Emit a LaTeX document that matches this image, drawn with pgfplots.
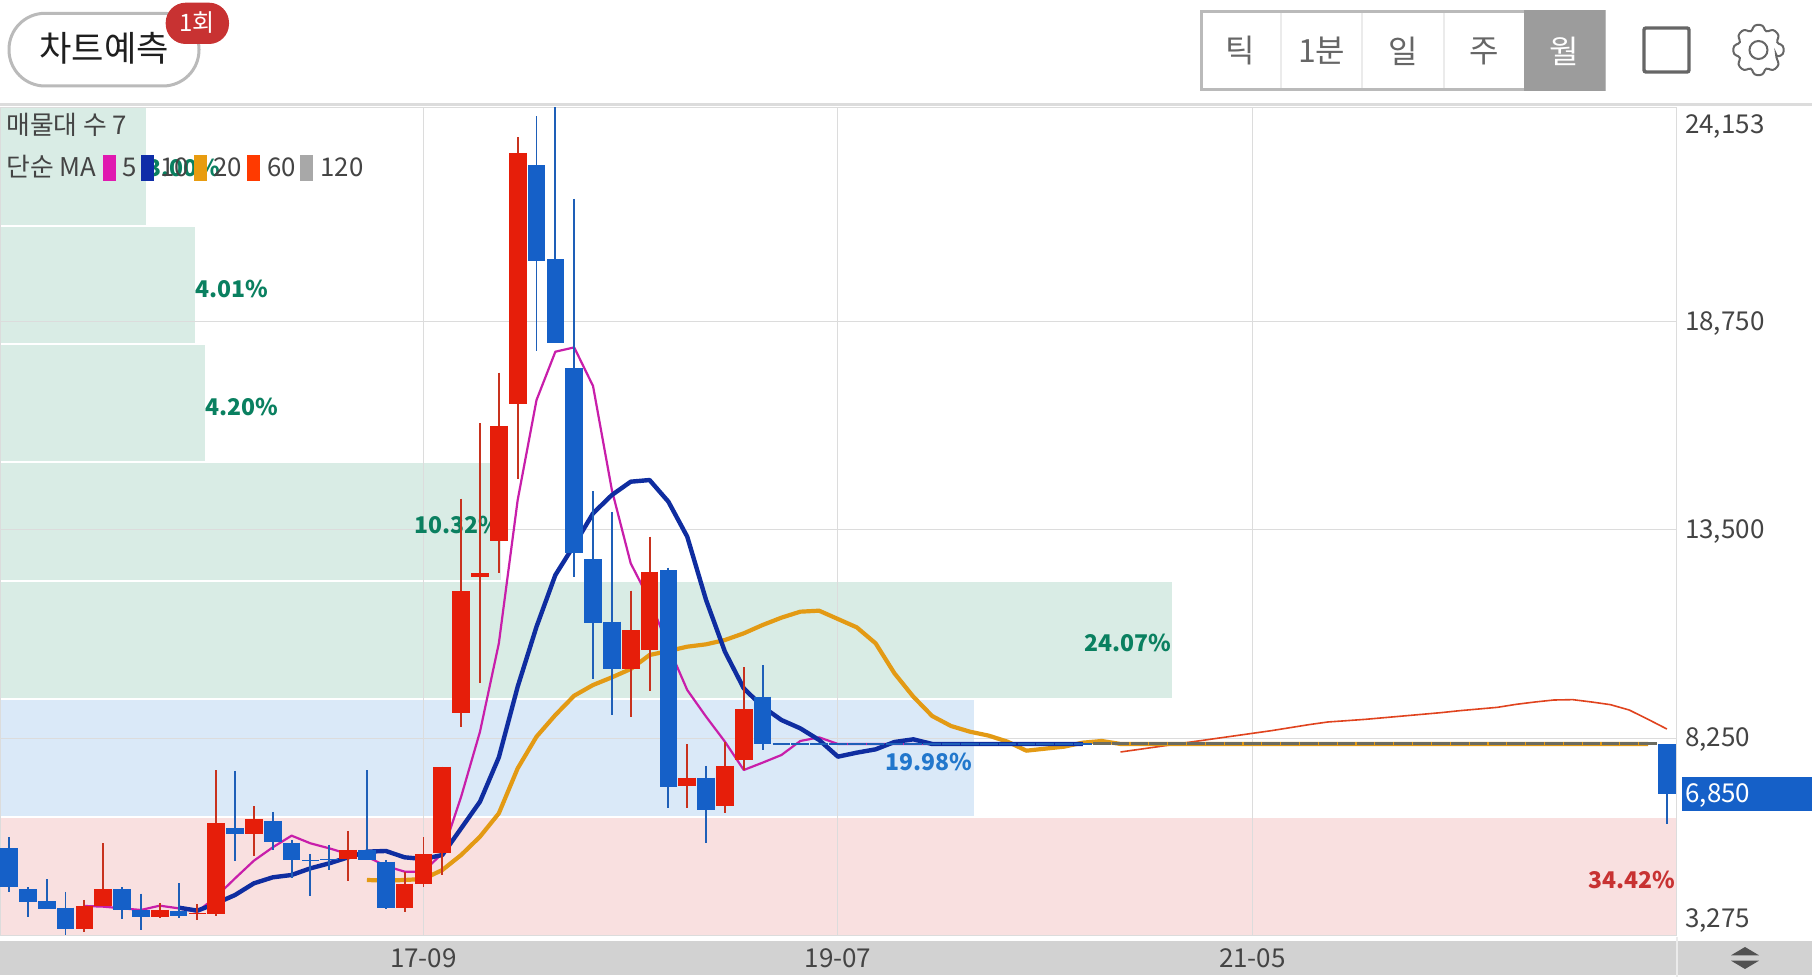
\documentclass[border=0pt]{standalone}
\usepackage{pgfplots}
\pgfplotsset{compat=1.18}
\usepackage{fontspec}
\setmainfont{Noto Sans CJK KR}
\definecolor{cred}{HTML}{E61E0A}
\definecolor{cblue}{HTML}{1560C8}
\definecolor{wred}{HTML}{C8321E}
\definecolor{wblue}{HTML}{1E5FB8}
\definecolor{ma5}{HTML}{C81EAA}
\definecolor{ma10}{HTML}{0F2DA0}
\definecolor{ma20}{HTML}{E39A14}
\definecolor{ma60}{HTML}{E0431E}
\definecolor{pgreen}{HTML}{D9ECE5}
\definecolor{pblue}{HTML}{DAE9F8}
\definecolor{ppink}{HTML}{F9E0E0}
\definecolor{tgreen}{HTML}{0A8060}
\definecolor{tblue}{HTML}{2277CC}
\definecolor{tred}{HTML}{C83232}
\definecolor{gridc}{HTML}{DCDCDC}
\definecolor{bandc}{HTML}{D2D2D2}
\definecolor{flatc}{HTML}{6C6C60}
\definecolor{txt}{HTML}{444444}
\definecolor{lg5}{HTML}{E019B0}
\definecolor{lg10}{HTML}{0F2DA8}
\definecolor{lg20}{HTML}{E89C10}
\definecolor{lg60}{HTML}{FF3A00}
\definecolor{lg120}{HTML}{A8A8A8}
\pgfdeclarelayer{bg}
\pgfdeclarelayer{axis background}
\pgfdeclarelayer{axis grid}
\pgfdeclarelayer{axis ticks}
\pgfdeclarelayer{axis lines}
\pgfdeclarelayer{axis tick labels}
\pgfdeclarelayer{pre main}
\pgfdeclarelayer{axis descriptions}
\pgfdeclarelayer{axis foreground}
\pgfsetlayers{bg,axis background,axis grid,axis ticks,axis lines,axis tick labels,pre main,main,axis descriptions,axis foreground}
\pgfplotsset{layers/mine/.define layer set={bg,axis background,axis grid,axis ticks,axis lines,axis tick labels,pre main,main,axis descriptions,axis foreground}{}}
\newcommand{\upc}[5]{%
 \addplot[wred,line width=.95pt,forget plot] coordinates {(#1,#4)(#1,#5)};
 \addplot[cred,line width=8.85pt,forget plot] coordinates {(#1,#2)(#1,#3)};}
\newcommand{\dnc}[5]{%
 \addplot[wblue,line width=.95pt,forget plot] coordinates {(#1,#4)(#1,#5)};
 \addplot[cblue,line width=8.85pt,forget plot] coordinates {(#1,#2)(#1,#3)};}
\newcommand{\prow}[4]{%
 \addplot[on layer=axis background,fill=#1,draw=white,line width=1pt,forget plot] coordinates {(-0.478,#2)(#4,#2)(#4,#3)(-0.478,#3)(-0.478,#2)};}
\newcommand{\pctL}[4]{\node[anchor=west,inner sep=0,font=\fontsize{11.5}{14}\selectfont\bfseries,text=#4] at (axis cs:#1,#2) {#3\%};}
\newcommand{\pctR}[4]{\node[anchor=east,inner sep=0,font=\fontsize{11.5}{14}\selectfont\bfseries,text=#4] at (axis cs:#1,#2) {#3\%};}
\begin{document}
\begin{tikzpicture}
\begin{pgfonlayer}{bg}
\fill[white] (0pt,0pt) rectangle (906pt,-488.5pt);
\begin{scope}[x=0.5pt,y=-0.5pt]
\fill[gridc] (0,103) rectangle (1812,106);
\fill[bandc] (0,940.7) rectangle (1812,975);
\fill[white!92!black] (1676,936) rectangle (1678,977);
\end{scope}
\end{pgfonlayer}
\begin{axis}[
 at={(0pt,-467.85pt)},anchor=south west,
 scale only axis,width=838.35pt,height=414.2pt,
 xmin=-0.478,xmax=88.52,ymin=3275,ymax=24153,
 set layers=mine,
 scaled y ticks=false,
 axis line style={draw=gridc,line width=.6pt},
 xtick={22,44,66},xticklabels={\raisebox{-16pt}[0pt][0pt]{17-09},\raisebox{-16pt}[0pt][0pt]{19-07},\raisebox{-16pt}[0pt][0pt]{21-05}},
 ytick={3275,8250,13500,18750,24153},
 yticklabels={{\raisebox{4.3pt}[0pt][0pt]{3,275}},{\raisebox{-4.3pt}[0pt][0pt]{8,250}},{\raisebox{-4.3pt}[0pt][0pt]{13,500}},{\raisebox{-4.3pt}[0pt][0pt]{18,750}},{\raisebox{-13.2pt}[0pt][0pt]{24,153}}},
 yticklabel pos=right,
 major tick length=0pt,
 xmajorgrids,ymajorgrids,
 grid style={draw=gridc,line width=.5pt},
 tick label style={font=\fontsize{13}{14}\selectfont,text=txt,inner sep=0pt},
 yticklabel style={anchor=west,xshift=4pt},
 xticklabel style={anchor=center,yshift=0pt},
]
% volume profile (share of turnover by price band)
\prow{ppink}{3275}{6257.6}{88.52}
\prow{pblue}{6257.6}{9240.1}{51.25}
\prow{pgreen}{9240.1}{12222.7}{61.81}
\prow{pgreen}{12222.7}{15205.3}{26.17}
\prow{pgreen}{15205.3}{18187.9}{10.45}
\prow{pgreen}{18187.9}{21170.4}{9.92}
\prow{pgreen}{21170.4}{24153}{7.32}
\pctL{7.325}{22621}{3.00}{tgreen}
\pctL{9.873}{19572}{4.01}{tgreen}
\pctL{10.4}{16599}{4.20}{tgreen}
\pctR{26.17}{13625}{10.32}{tgreen}
\pctR{61.73}{10664}{24.07}{tgreen}
\pctR{51.17}{7663}{19.98}{tblue}
\pctR{88.48}{4679}{34.42}{tred}
% MA 60
\addplot[ma60,line width=.8pt,line join=round,forget plot] coordinates {(59,7905)(60,7972)(61,8039)(62,8107)(63,8174)(64,8241)(65,8308)(66,8375)(67,8442)(68,8518)(69,8594)(70,8661)(71,8694)(72,8728)(73,8770)(74,8812)(75,8854)(76,8896)(77,8946)(78,8988)(79,9030)(80,9106)(81,9165)(82,9215)(83,9224)(84,9165)(85,9098)(86,8963)(87,8728)(88,8484)};
% MA 20
\addplot[ma20,line width=2.1pt,line join=round,forget plot] coordinates {(19,4679)(20,4662)(21,4679)(22,4704)(23,4931)(24,5309)(25,5771)(26,6359)(27,7493)(28,8291)(29,8837)(30,9324)(31,9593)(32,9786)(33,9996)(34,10349)(35,10450)(36,10559)(37,10618)(38,10727)(39,10895)(40,11105)(41,11290)(42,11441)(43,11466)(44,11256)(45,11046)(46,10643)(47,9887)(48,9299)(49,8812)(50,8560)(51,8417)(52,8317)(53,8165)(54,7938)(55,7989)(56,8039)(57,8140)(58,8182)(59,8107)(87,8107)};
% MA 5
\addplot[ma5,line width=1.1pt,line join=round,forget plot] coordinates {(4,4024)(5,4007)(6,3965)(7,3923)(8,4032)(9,3965)(10,3881)(11,4259)(12,4721)(13,5166)(14,5502)(15,5796)(16,5603)(17,5477)(18,5334)(19,5267)(20,5032)(21,4889)(22,4889)(23,5351)(24,6779)(25,8417)(26,10643)(27,14255)(28,16775)(29,17993)(30,18102)(31,17128)(32,14507)(33,12659)(34,11735)(35,10559)(36,9467)(37,8795)(38,8165)(39,7451)(40,7636)(41,7829)(42,8182)(43,8274)(44,8106)(57,8106)};
% MA 10
\addplot[ma10,line width=2.2pt,line join=round,forget plot] coordinates {(9,3982)(10,3906)(11,4091)(12,4301)(13,4595)(14,4746)(15,4805)(16,4973)(17,5099)(18,5250)(19,5393)(20,5410)(21,5250)(22,5208)(23,5309)(24,5981)(25,6653)(26,7770)(27,9551)(28,11063)(29,12365)(30,13121)(31,13919)(32,14381)(33,14717)(34,14759)(35,14213)(36,13331)(37,11735)(38,10433)(39,9509)(40,9047)(41,8711)(42,8501)(43,8207)(44,7787)(45,7888)(46,7972)(47,8157)(48,8224)(49,8107)(57,8107)};
% candles: index, top and bottom of the body, high, low
\dnc{0}{5478}{4495}{5755}{4384}
\dnc{1}{4445}{4132}{4495}{3754}
\dnc{2}{4142}{3956}{4697}{3941}
\dnc{3}{3981}{3452}{4377}{3285}
\upc{4}{4024}{3452}{4175}{3376}
\upc{5}{4445}{4024}{5604}{4024}
\dnc{6}{4445}{3931}{4495}{3704}
\dnc{7}{3923}{3754}{4334}{3419}
\upc{8}{3923}{3754}{4092}{3729}
\dnc{9}{3905}{3779}{4596}{3729}
\upc{10}{3840}{3815}{4067}{3671}
\upc{11}{6108}{3822}{7451}{3779}
\dnc{12}{5989}{5838}{7426}{5165}
\upc{13}{6216}{5831}{6536}{5291}
\dnc{14}{6166}{5629}{6393}{5435}
\dnc{15}{5619}{5191}{5687}{4722}
\dnc{16}{5191}{5158}{5334}{4283}
\dnc{17}{5208}{5183}{5561}{4931}
\upc{18}{5435}{5208}{5914}{4661}
\dnc{19}{5435}{5191}{7443}{5191}
\dnc{20}{5140}{3966}{5175}{3941}
\upc{21}{4586}{3966}{4888}{3865}
\upc{22}{5334}{4578}{5755}{4510}
\upc{23}{7534}{5352}{7534}{4805}
\upc{24}{11962}{8880}{14288}{8542}
\upc{25}{12408}{12322}{16188}{9636}
\upc{26}{16127}{13222}{17463}{12408}
\upc{27}{23007}{16674}{23395}{14777}
\dnc{28}{22697}{20278}{23932}{18017}
\dnc{29}{20328}{18204}{24153}{18204}
\dnc{30}{17574}{12927}{21848}{12307}
\dnc{31}{12761}{11155}{14474}{9752}
\dnc{32}{11188}{9996}{13953}{8845}
\upc{33}{10979}{9996}{11969}{8794}
\upc{34}{12448}{10475}{13330}{9449}
\dnc{35}{12491}{7030}{12549}{6486}
\upc{36}{7257}{7048}{8106}{6486}
\dnc{37}{7257}{6443}{7552}{5619}
\upc{38}{7559}{6551}{8164}{6360}
\upc{39}{8988}{7703}{10039}{7451}
\dnc{40}{9298}{8114}{10089}{7955}
% months without trades: flat at the last price
\addplot[wblue,line width=.8pt,dash pattern=on 8.85pt off .57pt,forget plot] coordinates {(40.53,8107)(57.5,8107)};
\addplot[flatc,line width=1.5pt,dash pattern=on 8.85pt off .57pt,forget plot] coordinates {(57.53,8107)(87.5,8107)};
\dnc{88}{8105}{6850}{8105}{6083}
\end{axis}
\begin{scope}[x=0.5pt,y=-0.5pt]
% last price tag
\fill[cblue] (1682,776.7) rectangle (1812,811);
\node[anchor=base west,inner sep=0,text=white,font=\fontsize{13}{14}\selectfont] at (1685,803) {6,850};
% legend
\def\lf{\fontsize{12.9}{14}\selectfont}
\node[anchor=base west,inner sep=0,text=txt,font=\lf] at (6,135) {매물대 수 7};
\node[anchor=base west,inner sep=0,text=txt,font=\lf] at (6,177) {단순 MA};
\fill[lg5] (103,155) rectangle (116,181);
\node[anchor=base west,inner sep=0,text=txt,font=\lf] at (122,177) {5};
\fill[lg10] (141,155) rectangle (154,181);
\node[anchor=base west,inner sep=0,text=txt,font=\lf] at (160,177) {10};
\fill[lg20] (194,155) rectangle (207,181);
\node[anchor=base west,inner sep=0,text=txt,font=\lf] at (213,177) {20};
\fill[lg60] (247,155) rectangle (260,181);
\node[anchor=base west,inner sep=0,text=txt,font=\lf] at (267,177) {60};
\fill[lg120] (300,155) rectangle (313,181);
\node[anchor=base west,inner sep=0,text=txt,font=\lf] at (320,177) {120};
% top bar
\draw[black!27,line width=1.5pt,rounded corners=18pt,fill=white] (9,13.3) rectangle (199,86);
\node[text=black!88,font=\fontsize{17.6}{20}\selectfont,inner sep=0] at (104,48) {차트예측};
\fill[tred,rounded corners=10pt] (165.7,2.7) rectangle (229,44);
\node[text=white,font=\fontsize{12}{14}\selectfont,inner sep=0] at (197,23) {1회};
\draw[black!27,line width=1.5pt,fill=white] (1201.5,11.5) rectangle (1604,89.5);
\draw[black!8,line width=1pt] (1281,13) -- (1281,88) (1362.4,13) -- (1362.4,88) (1443.5,13) -- (1443.5,88);
\fill[black!39] (1524,10) rectangle (1605,91);
\def\tbf{\fontsize{16}{18}\selectfont}
\node[text=black!60,font=\tbf,inner sep=0] at (1240.5,51) {틱};
\node[text=black!60,font=\tbf,inner sep=0] at (1321.7,51) {1분};
\node[text=black!60,font=\tbf,inner sep=0] at (1403,51) {일};
\node[text=black!60,font=\tbf,inner sep=0] at (1484,51) {주};
\node[text=white,font=\tbf,inner sep=0] at (1564.5,51) {월};
\draw[black!60,line width=1.7pt,rounded corners=1pt] (1644,28) rectangle (1689,72);
\begin{scope}[shift={(1758.5,50)}]
\draw[black!60,line width=1pt,rounded corners=1.5pt] (22.5:19) -- (10:25.5) -- (-10:25.5) -- (-22.5:19)
 \foreach \a in {-45,-90,...,-315}{ -- (\a+10:25.5) -- (\a-10:25.5) -- (\a-22.5:19) } -- cycle;
\draw[black!60,line width=1pt] (0,0) circle (9);
\end{scope}
% bottom bar icon
\fill[black!68] (1731,955.3) -- (1745,947) -- (1759,955.3) -- cycle;
\fill[black!68] (1731,960.7) -- (1745,969) -- (1759,960.7) -- cycle;
\end{scope}
\pgfresetboundingbox
\path[use as bounding box] (0pt,0pt) rectangle (906pt,-488.5pt);
\end{tikzpicture}
\end{document}
